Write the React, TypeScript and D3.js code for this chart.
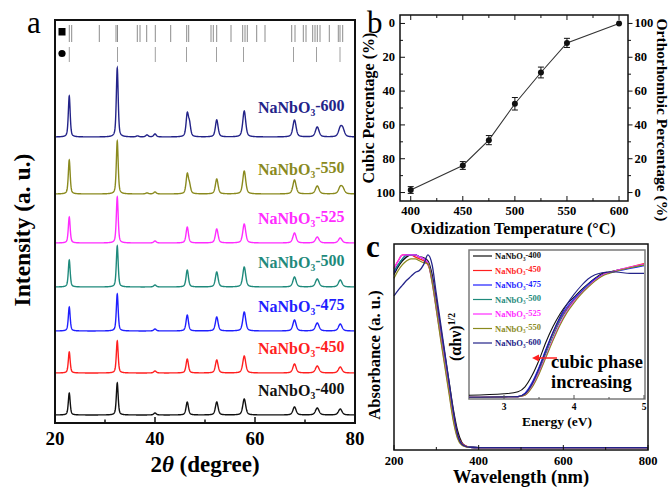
import React from "react";
import * as d3 from "d3";

const FONT = "'Liberation Serif','Times New Roman',Times,serif";

// ---------------- Panel (a): XRD patterns ----------------
const sampleTemps = [400, 450, 475, 500, 525, 550, 600];
const sampleColors = ["#111111", "#ff1f1f", "#1f1fff", "#1f8a7c", "#ff2cff", "#8a8a1e", "#232389"];
const xrdOffsets = [8, 50, 92, 136, 180, 229, 286];
const peakPos = [22.85, 32.45, 36.5, 38.4, 40.0, 46.45, 46.9, 52.35, 57.85, 67.9, 72.45, 77.05, 77.55];
const peakHw = [0.22, 0.22, 0.3, 0.3, 0.3, 0.28, 0.28, 0.32, 0.35, 0.38, 0.42, 0.42, 0.42];
const peakH400 = [22, 32, 0, 0, 2, 13, 0, 13, 16, 8, 7, 6, 0];
const peakH450 = [21, 32, 0, 0, 2, 14, 0, 13, 17, 9, 7, 6, 0];
const peakH475 = [24, 37, 0, 0, 2, 16, 0, 14, 19, 11, 8, 7, 0];
const peakH500 = [27, 41, 0, 0, 2, 17, 0, 15, 20, 10, 8, 7, 0];
const peakH525 = [26, 46, 0, 0, 2, 16, 0, 14, 19, 10, 6, 5, 0];
const peakH550 = [34, 53, 0, 1, 2, 19, 8, 15, 23, 14, 8, 6, 5];
const peakH600 = [41, 69, 1, 2, 3, 22, 12, 17, 26, 17, 10, 8, 7];
const peakHeights = [peakH400, peakH450, peakH475, peakH500, peakH525, peakH550, peakH600];
const orthoRefs = [22.86, 23.34, 28.86, 32.2, 32.5, 36.46, 37.0, 38.34, 40.06, 43.14, 46.34, 46.74, 51.2, 51.66, 52.34, 55.2, 57.54, 58.0, 58.46, 60.34, 62.0, 67.34, 68.0, 69.66, 70.2, 71.54, 72.0, 72.46, 73.0, 74.86, 76.66, 77.0, 77.54];
const cubicRefs = [22.86, 32.5, 40.06, 46.3, 52.3, 57.7, 67.7, 72.3, 77.0];
const xrdMajorTicks = [20, 40, 60, 80];
const xrdMinorTicks = [30, 50, 70];

// ---------------- Panel (b): phase percentage ----------------
const oxTemps = [400, 450, 475, 500, 525, 550, 600];
const cubicPct = [98.5, 84, 69, 47.5, 29, 11.5, 0];
const cubicErr = [2, 2.3, 2.7, 3.7, 3.2, 2.7, 0];
const bMajorX = [400, 450, 500, 550, 600];
const bMinorX = [425, 475, 525, 575];
const bMajorY = [0, 20, 40, 60, 80, 100];
const bMinorY = [10, 30, 50, 70, 90];

// ---------------- Panel (c): UV-vis absorbance ----------------
const wavelengths = [200, 210, 220, 230, 240, 250, 260, 270, 280, 290, 300, 310, 320, 330, 340, 350, 360, 370, 380, 400, 500, 600, 700, 800];
const abs400 = [0.90, 0.94, 0.97, 0.99, 1.0, 1.0, 0.99, 0.985, 0.97, 0.90, 0.77, 0.63, 0.49, 0.35, 0.21, 0.10, 0.04, 0.02, 0.014, 0.012, 0.012, 0.012, 0.012, 0.012];
const abs450 = [0.93, 0.97, 1.0, 1.0, 1.0, 0.99, 0.98, 0.97, 0.95, 0.88, 0.75, 0.61, 0.47, 0.33, 0.19, 0.08, 0.035, 0.02, 0.014, 0.012, 0.012, 0.012, 0.012, 0.012];
const abs475 = [0.91, 0.95, 0.98, 1.0, 1.0, 1.0, 0.99, 0.98, 0.96, 0.88, 0.74, 0.60, 0.46, 0.32, 0.18, 0.075, 0.03, 0.018, 0.014, 0.012, 0.012, 0.012, 0.012, 0.012];
const abs500 = [0.92, 0.95, 0.98, 1.0, 1.0, 1.0, 0.99, 0.98, 0.96, 0.87, 0.73, 0.59, 0.45, 0.31, 0.17, 0.07, 0.03, 0.018, 0.014, 0.012, 0.012, 0.012, 0.012, 0.012];
const abs525 = [0.93, 0.97, 1.0, 1.0, 1.0, 1.0, 0.99, 0.98, 0.96, 0.86, 0.72, 0.58, 0.44, 0.30, 0.16, 0.065, 0.028, 0.017, 0.013, 0.012, 0.012, 0.012, 0.012, 0.012];
const abs550 = [0.88, 0.92, 0.95, 0.97, 0.98, 0.98, 0.97, 0.96, 0.955, 0.86, 0.72, 0.57, 0.43, 0.29, 0.15, 0.06, 0.025, 0.016, 0.013, 0.012, 0.012, 0.012, 0.012, 0.012];
const abs600 = [0.79, 0.82, 0.845, 0.87, 0.89, 0.91, 0.92, 0.95, 1.0, 0.95, 0.80, 0.65, 0.50, 0.35, 0.20, 0.08, 0.03, 0.018, 0.014, 0.012, 0.012, 0.012, 0.012, 0.012];
const absSeries = [abs400, abs450, abs475, abs500, abs525, abs550, abs600];
const cMajorX = [200, 400, 600, 800];
const cMinorX = [300, 500, 700];

// ---------------- Inset: Tauc plot ----------------
const energies = [2.5, 3.0, 3.2, 3.3, 3.4, 3.5, 3.6, 3.7, 3.8, 3.9, 4.0, 4.1, 4.2, 4.3, 4.4, 4.5, 4.6, 4.8, 5.0];
const tauc400 = [0.02, 0.03, 0.045, 0.08, 0.16, 0.27, 0.40, 0.51, 0.60, 0.67, 0.72, 0.77, 0.815, 0.855, 0.89, 0.90, 0.91, 0.93, 0.95];
const tauc450 = [0.005, 0.008, 0.01, 0.03, 0.10, 0.21, 0.34, 0.46, 0.56, 0.64, 0.70, 0.755, 0.80, 0.845, 0.88, 0.895, 0.91, 0.935, 0.96];
const tauc475 = [0.005, 0.008, 0.01, 0.035, 0.11, 0.22, 0.35, 0.47, 0.57, 0.65, 0.71, 0.76, 0.81, 0.85, 0.88, 0.895, 0.905, 0.925, 0.945];
const tauc500 = [0.005, 0.008, 0.01, 0.025, 0.09, 0.19, 0.32, 0.44, 0.55, 0.63, 0.695, 0.75, 0.80, 0.84, 0.875, 0.895, 0.91, 0.93, 0.95];
const tauc525 = [0.005, 0.008, 0.01, 0.02, 0.08, 0.18, 0.30, 0.42, 0.53, 0.62, 0.69, 0.745, 0.795, 0.84, 0.875, 0.895, 0.91, 0.935, 0.955];
const tauc550 = [0.005, 0.008, 0.01, 0.02, 0.075, 0.17, 0.29, 0.41, 0.52, 0.61, 0.68, 0.74, 0.79, 0.835, 0.87, 0.89, 0.905, 0.93, 0.95];
const tauc600 = [0.005, 0.008, 0.01, 0.03, 0.10, 0.21, 0.34, 0.47, 0.58, 0.67, 0.74, 0.80, 0.85, 0.88, 0.895, 0.90, 0.90, 0.89, 0.89];
const taucSeries = [tauc400, tauc450, tauc475, tauc500, tauc525, tauc550, tauc600];
const insetMajorX = [3, 4, 5];
const insetMinorX = [3.5, 4.5];

function SampleName({ t }: { t: number }) {
  return (
    <>
      NaNbO<tspan fontSize="0.6em" dy="0.3em">3</tspan>
      <tspan dy="-0.3em">-{t}</tspan>
    </>
  );
}

export default function App() {
  // ----- panel a -----
  const ax = d3.scaleLinear().domain([20, 80]).range([55, 355]);
  const ay = d3.scaleLinear().domain([0, 403]).range([423, 20]);
  const grid = Array.from(new Set([...d3.range(20, 80.0001, 0.04), ...peakPos])).sort((a, b) => a - b);
  const profile = (heights: number[]) =>
    grid.map((t) => {
      let s = 0;
      heights.forEach((h, i) => {
        if (!h) return;
        const u = (t - peakPos[i]) / peakHw[i];
        s += h * (0.5 / (1 + u * u) + 0.5 * Math.exp(-Math.LN2 * u * u));
      });
      return [t, s] as [number, number];
    });
  const xrdLine = (off: number) =>
    d3.line<[number, number]>().x((d) => ax(d[0])).y((d) => ay(d[1] + off));

  // ----- panel b -----
  const bx = d3.scaleLinear().domain([389.7, 608.6]).range([400, 628]);
  const by = d3.scaleLinear().domain([-5, 105]).range([15, 201]);
  const bLine = d3.line<number>().x((_, i) => bx(oxTemps[i])).y((d) => by(d));

  // ----- panel c -----
  const cx = d3.scaleLinear().domain([200, 800]).range([394, 648]);
  const cy = d3.scaleLinear().domain([0, 1.056]).range([450, 244]);
  const cLine = d3.line<number>().x((_, i) => cx(wavelengths[i])).y((d) => cy(d)).curve(d3.curveMonotoneX);

  const ix = d3.scaleLinear().domain([2.5, 5]).range([469, 644]);
  const iy = d3.scaleLinear().domain([0, 1]).range([398, 258]);
  const iLine = d3.line<number>().x((_, i) => ix(energies[i])).y((d) => iy(d)).curve(d3.curveMonotoneX);

  const bold = { fontFamily: FONT, fontWeight: 700 } as const;

  return (
    <svg width={670} height={488} style={{ position: "absolute", left: 0, top: 0, background: "#fff" }} fontFamily={FONT}>
      <rect x={0} y={0} width={670} height={488} fill="#fff" />
      {/* ================= Panel a ================= */}
      <text x={27} y={33} fontSize={31}>a</text>
      {/* reference markers */}
      <rect x={58.5} y={28} width={7} height={7.5} fill="#000" />
      <circle cx={62} cy={53.5} r={3.6} fill="#000" />
      {orthoRefs.map((p, i) => (
        <line key={"o" + i} x1={ax(p)} x2={ax(p)} y1={25} y2={42} stroke="#8c8c8c" strokeWidth={1} />
      ))}
      {cubicRefs.map((p, i) => (
        <line key={"c" + i} x1={ax(p)} x2={ax(p)} y1={47} y2={62} stroke="#a0a0a0" strokeWidth={1} />
      ))}
      {peakHeights.map((h, k) => (
        <path key={"x" + k} d={xrdLine(xrdOffsets[k])(profile(h)) || ""} fill="none" stroke={sampleColors[k]} strokeWidth={1.4} />
      ))}
      {sampleTemps.map((t, k) => (
        <text key={"l" + k} x={258} y={ay(xrdOffsets[k]) - (k === 6 ? 24 : 19)} fontSize={16} {...bold} fill={sampleColors[k]}>
          <SampleName t={t} />
        </text>
      ))}
      <rect x={55} y={20} width={300} height={403} fill="none" stroke="#111" strokeWidth={2} />
      {xrdMajorTicks.map((t) => (
        <g key={"amt" + t}>
          <line x1={ax(t)} x2={ax(t)} y1={423} y2={417} stroke="#111" strokeWidth={1.5} />
          <text x={ax(t)} y={445} textAnchor="middle" fontSize={19} {...bold}>{t}</text>
        </g>
      ))}
      {xrdMinorTicks.map((t) => (
        <line key={"ant" + t} x1={ax(t)} x2={ax(t)} y1={423} y2={419.5} stroke="#111" strokeWidth={1.5} />
      ))}
      <text transform="translate(30,230) rotate(-90)" textAnchor="middle" fontSize={23.5} {...bold}>Intensity (a. u.)</text>
      <text x={205} y={472} textAnchor="middle" fontSize={23} {...bold}>
        2<tspan fontStyle="italic">θ</tspan> (degree)
      </text>

      {/* ================= Panel b ================= */}
      <text x={367} y={33} fontSize={31}>b</text>
      <rect x={400} y={15} width={228} height={186} fill="none" stroke="#111" strokeWidth={1.5} />
      {bMajorX.map((t) => (
        <g key={"bx" + t}>
          <line x1={bx(t)} x2={bx(t)} y1={201} y2={196} stroke="#111" />
          <line x1={bx(t)} x2={bx(t)} y1={15} y2={20} stroke="#111" />
          <text x={bx(t)} y={215} textAnchor="middle" fontSize={12.5} {...bold}>{t}</text>
        </g>
      ))}
      {bMinorX.map((t) => (
        <g key={"bmx" + t}>
          <line x1={bx(t)} x2={bx(t)} y1={201} y2={198} stroke="#111" />
          <line x1={bx(t)} x2={bx(t)} y1={15} y2={18} stroke="#111" />
        </g>
      ))}
      {bMajorY.map((t) => (
        <g key={"by" + t}>
          <line x1={400} x2={405} y1={by(t)} y2={by(t)} stroke="#111" />
          <line x1={628} x2={632.5} y1={by(t)} y2={by(t)} stroke="#111" />
          <text x={395} y={by(t) + 4} textAnchor="end" fontSize={12.5} {...bold}>{t}</text>
          <text x={634.5} y={by(t) + 4} textAnchor="start" fontSize={12.5} {...bold}>{100 - t}</text>
        </g>
      ))}
      {bMinorY.map((t) => (
        <g key={"bmy" + t}>
          <line x1={400} x2={403} y1={by(t)} y2={by(t)} stroke="#111" />
          <line x1={628} x2={631} y1={by(t)} y2={by(t)} stroke="#111" />
        </g>
      ))}
      <path d={bLine(cubicPct) || ""} fill="none" stroke="#333" strokeWidth={1.1} />
      {cubicPct.map((v, i) => (
        <g key={"pt" + i}>
          {cubicErr[i] > 0 && (
            <g stroke="#111" strokeWidth={1}>
              <line x1={bx(oxTemps[i])} x2={bx(oxTemps[i])} y1={by(v - cubicErr[i])} y2={by(v + cubicErr[i])} />
              <line x1={bx(oxTemps[i]) - 3} x2={bx(oxTemps[i]) + 3} y1={by(v - cubicErr[i])} y2={by(v - cubicErr[i])} />
              <line x1={bx(oxTemps[i]) - 3} x2={bx(oxTemps[i]) + 3} y1={by(v + cubicErr[i])} y2={by(v + cubicErr[i])} />
            </g>
          )}
          <circle cx={bx(oxTemps[i])} cy={by(v)} r={3} fill="#111" />
        </g>
      ))}
      <text transform="translate(374,108) rotate(-90)" textAnchor="middle" fontSize={16} {...bold}>Cubic Percentage (%)</text>
      <text transform="translate(656.5,120) rotate(90)" textAnchor="middle" fontSize={15.5} {...bold}>Orthorhombic Percentage (%)</text>
      <text x={513} y={234} textAnchor="middle" fontSize={16} {...bold}>Oxidization Temperature (°C)</text>

      {/* ================= Panel c ================= */}
      <text x={366} y={257} fontSize={31} fontWeight={700}>c</text>
      {absSeries.map((s, k) => (
        <path key={"ab" + k} d={cLine(s) || ""} fill="none" stroke={sampleColors[k]} strokeWidth={1.3} />
      ))}
      <rect x={394} y={244} width={254} height={206} fill="none" stroke="#111" strokeWidth={1.5} />
      {cMajorX.map((t) => (
        <g key={"cx" + t}>
          <line x1={cx(t)} x2={cx(t)} y1={450} y2={445} stroke="#111" />
          <text x={cx(t)} y={465} textAnchor="middle" fontSize={12.5} {...bold}>{t}</text>
        </g>
      ))}
      {cMinorX.map((t) => (
        <line key={"cmx" + t} x1={cx(t)} x2={cx(t)} y1={450} y2={447} stroke="#111" />
      ))}
      <text transform="translate(380,355) rotate(-90)" textAnchor="middle" fontSize={16.5} {...bold}>Absorbance (a. u.)</text>
      <text x={521} y={483} textAnchor="middle" fontSize={18.5} {...bold}>Wavelength (nm)</text>

      {/* inset */}
      <rect x={469} y={250} width={176} height={149} fill="#fff" stroke="#7a7a7a" strokeWidth={1.5} />
      {taucSeries.map((s, k) => (
        <path key={"tc" + k} d={iLine(s) || ""} fill="none" stroke={sampleColors[k]} strokeWidth={1.1} />
      ))}
      {insetMajorX.map((t) => (
        <g key={"ix" + t}>
          <line x1={ix(t)} x2={ix(t)} y1={399} y2={395} stroke="#555" />
          <text x={ix(t)} y={410} textAnchor="middle" fontSize={9.5} {...bold}>{t}</text>
        </g>
      ))}
      {insetMinorX.map((t) => (
        <line key={"imx" + t} x1={ix(t)} x2={ix(t)} y1={399} y2={397} stroke="#555" />
      ))}
      {sampleTemps.map((t, k) => (
        <g key={"lg" + k}>
          <line x1={473} x2={492} y1={256 + k * 14.5} y2={256 + k * 14.5} stroke={sampleColors[k]} strokeWidth={1.2} />
          <text x={495} y={259 + k * 14.5} fontSize={8.5} {...bold} fill={sampleColors[k]}>
            <SampleName t={t} />
          </text>
        </g>
      ))}
      <text x={557} y={425.5} textAnchor="middle" fontSize={13.5} {...bold}>Energy (eV)</text>
      <text transform="translate(461,337) rotate(-90)" textAnchor="middle" fontSize={16} {...bold}>
        (αhν)<tspan fontSize="0.6em" dy="-0.65em">1/2</tspan>
      </text>
      <line x1={557} x2={538} y1={358} y2={358} stroke="#ff2020" strokeWidth={1.5} />
      <polygon points="532,358 539,354.5 539,361.5" fill="#ff2020" />
      <text x={551} y={368} fontSize={18.5} {...bold}>cubic phase</text>
      <text x={551} y={388} fontSize={18.5} {...bold}>increasing</text>
    </svg>
  );
}
